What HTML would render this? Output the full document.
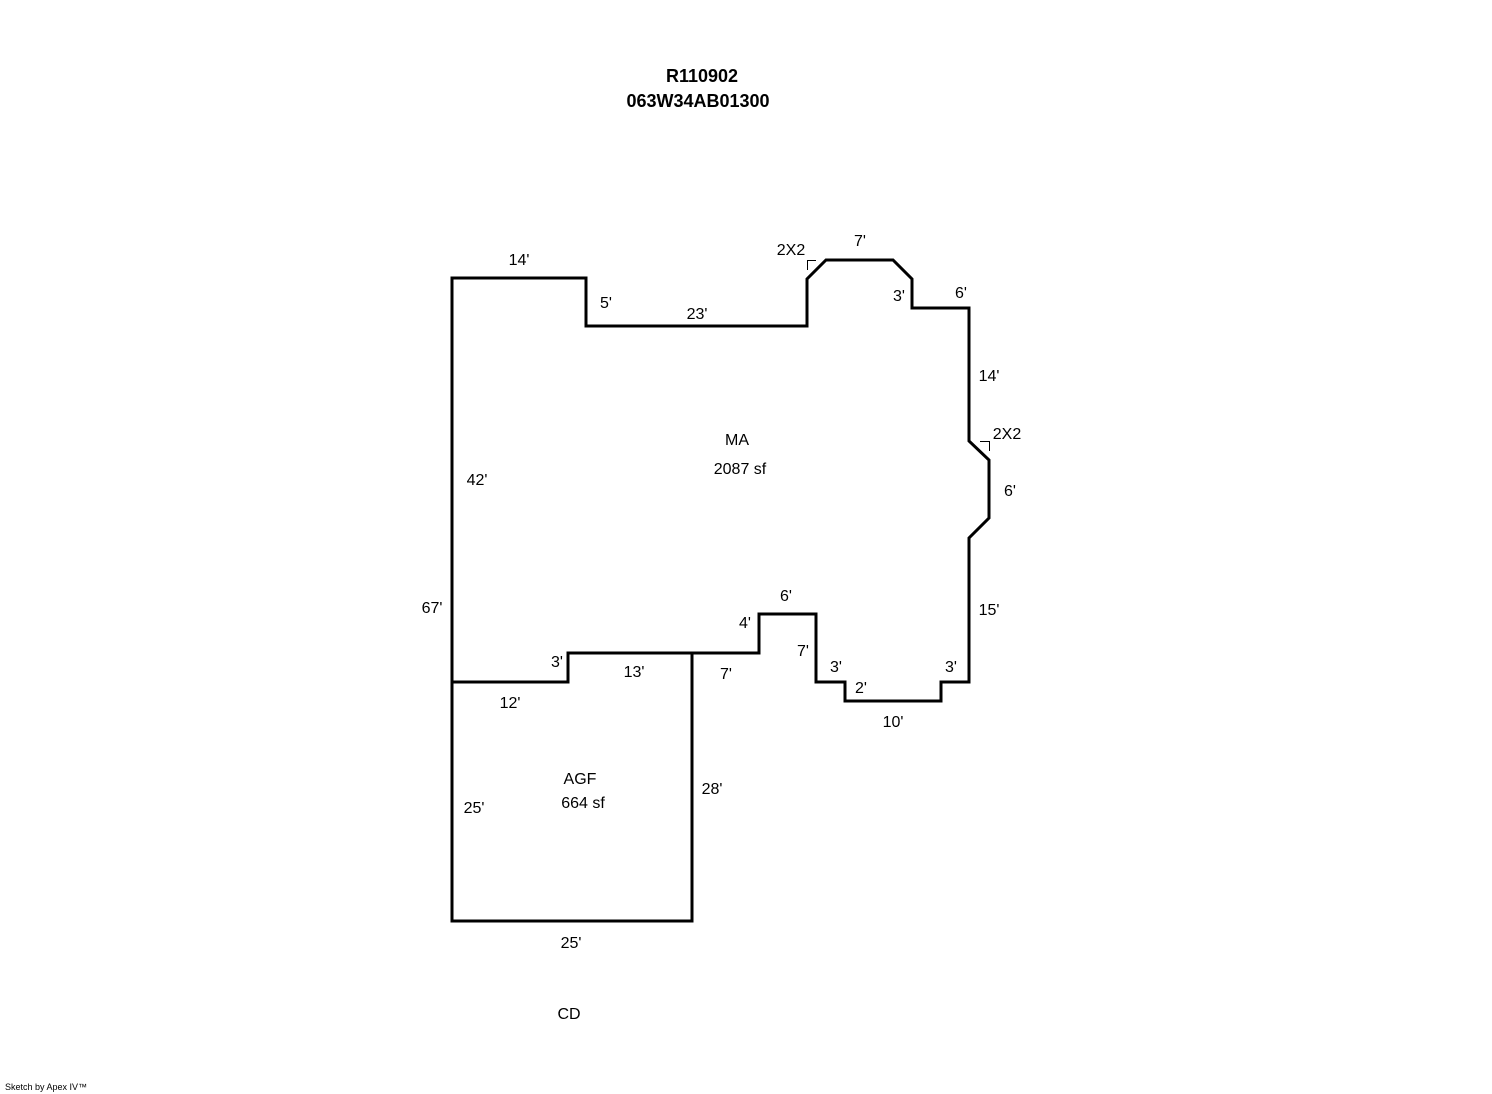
<!DOCTYPE html>
<html><head><meta charset="utf-8"><style>
html,body{margin:0;padding:0;background:#fff;}
svg{display:block;}
text{font-family:"Liberation Sans",Arial,sans-serif;font-size:16px;fill:#000;}
.b{font-weight:bold;font-size:18px;}
</style></head><body>
<svg width="1492" height="1094" viewBox="0 0 1492 1094" xmlns="http://www.w3.org/2000/svg">
<rect width="1492" height="1094" fill="#fff"/>
<text class="b" x="702" y="82" text-anchor="middle">R110902</text>
<text class="b" x="698" y="107" text-anchor="middle">063W34AB01300</text>
<g fill="none" stroke="#000" stroke-width="3" stroke-linejoin="miter">
<polygon points="452,278 586,278 586,326 807,326 807,279 826,260 893,260 912,279 912,308 969,308 969,441 989,460 989,518 969,538 969,682 941,682 941,701 845,701 845,682 816,682 816,614 759,614 759,653 568,653 568,682 452,682"/>
<polyline points="452,682 452,921 692,921 692,653"/>
</g>
<g fill="none" stroke="#000" stroke-width="1">
<polyline points="807.5,270 807.5,260.5 816,260.5"/>
<polyline points="980,441.5 989.5,441.5 989.5,451"/>
</g>
<text x="519" y="265" text-anchor="middle">14'</text>
<text x="606" y="308" text-anchor="middle">5'</text>
<text x="697" y="319" text-anchor="middle">23'</text>
<text x="791" y="255" text-anchor="middle">2X2</text>
<text x="860" y="246" text-anchor="middle">7'</text>
<text x="899" y="301" text-anchor="middle">3'</text>
<text x="961" y="298" text-anchor="middle">6'</text>
<text x="989" y="381" text-anchor="middle">14'</text>
<text x="1007" y="439" text-anchor="middle">2X2</text>
<text x="1010" y="496" text-anchor="middle">6'</text>
<text x="989" y="615" text-anchor="middle">15'</text>
<text x="737" y="445" text-anchor="middle">MA</text>
<text x="740" y="474" text-anchor="middle">2087 sf</text>
<text x="477" y="485" text-anchor="middle">42'</text>
<text x="432" y="613" text-anchor="middle">67'</text>
<text x="786" y="601" text-anchor="middle">6'</text>
<text x="745" y="628" text-anchor="middle">4'</text>
<text x="803" y="656" text-anchor="middle">7'</text>
<text x="836" y="672" text-anchor="middle">3'</text>
<text x="861" y="693" text-anchor="middle">2'</text>
<text x="951" y="672" text-anchor="middle">3'</text>
<text x="893" y="727" text-anchor="middle">10'</text>
<text x="557" y="667" text-anchor="middle">3'</text>
<text x="634" y="677" text-anchor="middle">13'</text>
<text x="726" y="679" text-anchor="middle">7'</text>
<text x="510" y="708" text-anchor="middle">12'</text>
<text x="580" y="784" text-anchor="middle">AGF</text>
<text x="583" y="808" text-anchor="middle">664 sf</text>
<text x="474" y="813" text-anchor="middle">25'</text>
<text x="712" y="794" text-anchor="middle">28'</text>
<text x="571" y="948" text-anchor="middle">25'</text>
<text x="569" y="1019" text-anchor="middle">CD</text>
<text x="5" y="1090" style="font-size:9px">Sketch by Apex IV™</text>
</svg>
</body></html>
